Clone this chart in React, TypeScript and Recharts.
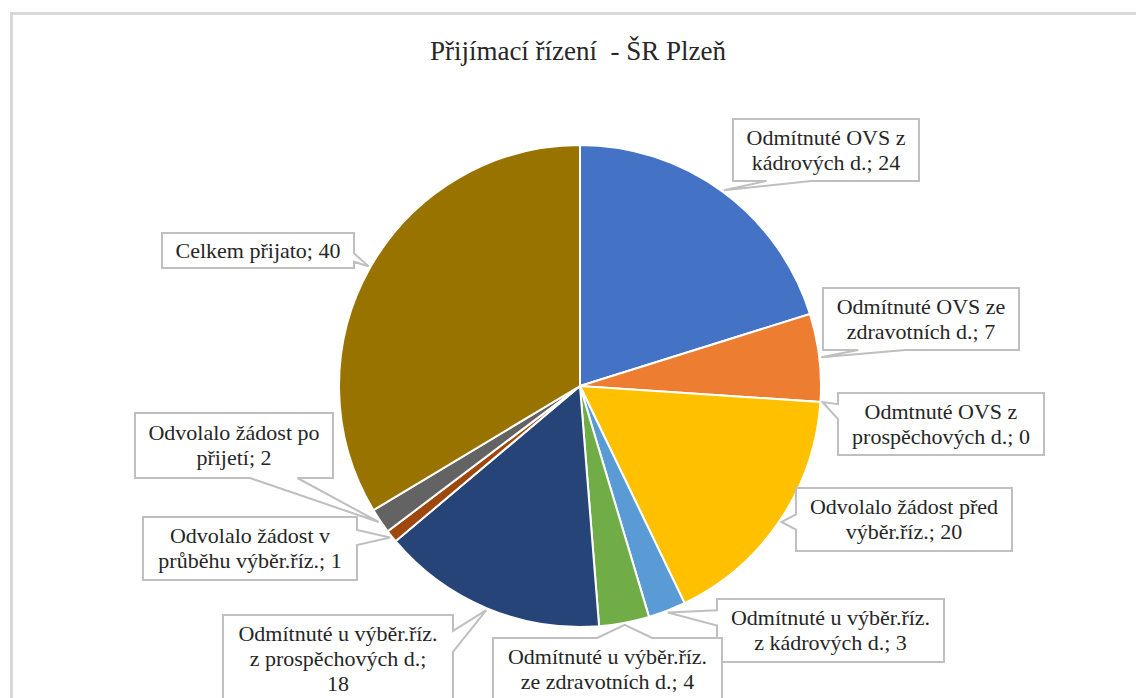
import React from "react";
import { PieChart, Pie, Cell } from "recharts";

// data
const categories = [
  "Odmítnuté OVS z\nkádrových d.",
  "Odmítnuté OVS ze\nzdravotních d.",
  "Odmtnuté OVS z\nprospěchových d.",
  "Odvolalo žádost před\nvýběr.říz.",
  "Odmítnuté u výběr.říz.\nz kádrových d.",
  "Odmítnuté u výběr.říz.\nze zdravotních d.",
  "Odmítnuté u výběr.říz.\nz prospěchových d.",
  "Odvolalo žádost v\nprůběhu výběr.říz.",
  "Odvolalo žádost po\npřijetí",
  "Celkem přijato",
];
const values = [24, 7, 0, 20, 3, 4, 18, 1, 2, 40];
const colors = [
  "#4472C4",
  "#ED7D31",
  "#A5A5A5",
  "#FFC000",
  "#5B9BD5",
  "#70AD47",
  "#264478",
  "#9E480E",
  "#636363",
  "#997300",
];

// label box layout (page px)
const labelBoxes = [
  { x: 733, y: 119, w: 186, h: 62 },
  { x: 823, y: 288, w: 196, h: 62 },
  { x: 838, y: 393, w: 206, h: 62 },
  { x: 796, y: 488, w: 216, h: 63 },
  { x: 717, y: 599, w: 227, h: 63 },
  { x: 493, y: 638, w: 229, h: 62 },
  { x: 223, y: 615, w: 230, h: 88, valueOnNewLine: true },
  { x: 143, y: 517, w: 214, h: 63 },
  { x: 135, y: 413, w: 198, h: 65 },
  { x: 162, y: 233, w: 192, h: 35 },
];

const chartData = categories.map((name, i) => ({ name, value: values[i] }));

const FONT = '"Liberation Serif", "Times New Roman", serif';
const RAD = Math.PI / 180;
const LINE_H = 25;
const FONT_SIZE = 22;

const clamp = (v: number, a: number, b: number) => Math.max(a, Math.min(b, v));

function calloutPath(b: { x: number; y: number; w: number; h: number }, ax: number, ay: number) {
  const x0 = b.x, y0 = b.y, x1 = b.x + b.w, y1 = b.y + b.h;
  const cx = (x0 + x1) / 2, cy = (y0 + y1) / 2;
  const nx = (ax - cx) / (b.w / 2);
  const ny = (ay - cy) / (b.h / 2);
  if (Math.abs(nx) > Math.abs(ny)) {
    const bc = clamp(ay, y0 + 0.3 * b.h, y1 - 0.3 * b.h);
    const hw = 0.12 * b.h;
    if (nx > 0)
      return `M${x0},${y0}H${x1}V${bc - hw}L${ax},${ay}L${x1},${bc + hw}V${y1}H${x0}Z`;
    return `M${x0},${y0}H${x1}V${y1}H${x0}V${bc + hw}L${ax},${ay}L${x0},${bc - hw}Z`;
  }
  const bc = clamp(ax, x0 + 0.3 * b.w, x1 - 0.3 * b.w);
  const hw = 0.12 * b.w;
  if (ny > 0)
    return `M${x0},${y0}H${x1}V${y1}H${bc + hw}L${ax},${ay}L${bc - hw},${y1}H${x0}Z`;
  return `M${x0},${y0}H${bc - hw}L${ax},${ay}L${bc + hw},${y0}H${x1}V${y1}H${x0}Z`;
}

const renderLabel = (props: any) => {
  const { cx, cy, midAngle, outerRadius, name, value } = props;
  const index = props.index ?? categories.indexOf(name);
  const box = labelBoxes[index];
  if (!box) return null;
  const r = outerRadius + 2;
  const ax = cx + r * Math.cos(-midAngle * RAD);
  const ay = cy + r * Math.sin(-midAngle * RAD);
  const sep = box.valueOnNewLine ? ";\n" : "; ";
  const lines = `${name}${sep}${value}`.split("\n");
  const midY = box.y + box.h / 2;
  return (
    <g key={`lbl-${index}`}>
      <path
        d={calloutPath(box, ax, ay)}
        fill="#ffffff"
        stroke="#bfbfbf"
        strokeWidth={2}
        strokeLinejoin="miter"
      />
      {lines.map((ln, i) => (
        <text
          key={i}
          x={box.x + box.w / 2}
          y={midY + (i - (lines.length - 1) / 2) * LINE_H + FONT_SIZE * 0.33}
          textAnchor="middle"
          style={{ fontFamily: FONT, fontSize: FONT_SIZE }}
          fill="#262626"
        >
          {ln}
        </text>
      ))}
    </g>
  );
};

export default function App() {
  return (
    <div
      style={{
        position: "absolute",
        left: 0,
        top: 0,
        width: 1136,
        height: 698,
        overflow: "hidden",
        background: "#ffffff",
      }}
    >
      <div
        style={{
          position: "absolute",
          left: 10,
          top: 12,
          width: 1200,
          height: 800,
          border: "3px solid #d9d9d9",
          boxSizing: "border-box",
        }}
      />
      <div
        style={{
          position: "absolute",
          left: 0,
          top: 36,
          width: 1156,
          textAlign: "center",
          fontFamily: FONT,
          fontSize: 27,
          color: "#262626",
          whiteSpace: "pre",
        }}
      >
        Přijímací řízení  - ŠR Plzeň
      </div>
      <div style={{ position: "absolute", left: 0, top: 0 }}>
        <PieChart width={1136} height={698} margin={{ top: 0, right: 0, bottom: 0, left: 0 }}>
          <Pie
            data={chartData}
            dataKey="value"
            nameKey="name"
            cx={580}
            cy={386}
            outerRadius={241}
            startAngle={90}
            endAngle={-270}
            stroke="#ffffff"
            strokeWidth={2}
            labelLine={false}
            label={renderLabel}
            isAnimationActive={false}
          >
            {chartData.map((d, i) => (
              <Cell key={d.name} fill={colors[i]} />
            ))}
          </Pie>
        </PieChart>
      </div>
    </div>
  );
}
